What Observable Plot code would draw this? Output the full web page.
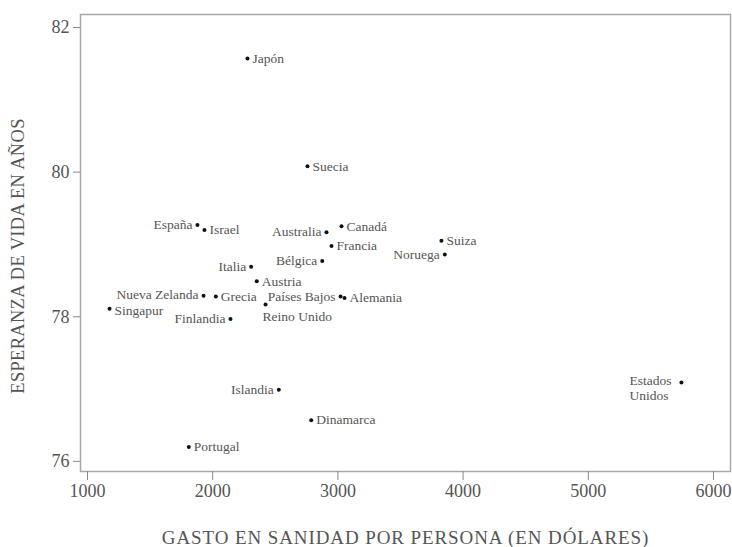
<!DOCTYPE html>
<html><head><meta charset="utf-8">
<script src="https://cdn.jsdelivr.net/npm/d3@7"></script>
<script src="https://cdn.jsdelivr.net/npm/@observablehq/plot@0.6"></script>
<style>
body{margin:0;background:#fff}
svg{display:block}
#chart svg, #chart svg text{font-family:"Liberation Serif","DejaVu Serif",serif !important;}
</style>
</head><body><div id="chart"></div>
<script>
// Data
const countries = ["Japón","Suecia","España","Israel","Australia","Canadá","Francia","Bélgica","Suiza","Noruega","Italia","Austria","Nueva Zelanda","Grecia","Países Bajos","Alemania","Reino Unido","Singapur","Finlandia","Islandia","Dinamarca","Portugal","Estados Unidos"];
const spending = [2278,2757,1878,1934,2909,3029,2949,2875,3827,3854,2307,2352,1927,2025,3021,3053,2422,1176,2142,2528,2787,1809,5744];
const lifeExpectancy = [81.57,80.08,79.27,79.20,79.17,79.25,78.98,78.77,79.05,78.86,78.69,78.49,78.29,78.28,78.28,78.26,78.17,78.11,77.97,76.99,76.57,76.20,77.09];
const xTicks = [1000,2000,3000,4000,5000,6000];
const yTicks = [76,78,80,82];
const xTitle = "GASTO EN SANIDAD POR PERSONA (EN DÓLARES)";
const yTitle = "ESPERANZA DE VIDA EN AÑOS";

// label placement (layout config)
const leftLabeled = new Set(["España","Australia","Bélgica","Noruega","Italia","Nueva Zelanda","Finlandia","Islandia","Países Bajos"]);
const belowLabeled = new Set(["Reino Unido"]);
const blockLabeled = new Set(["Estados Unidos"]);
const nudgeUp = new Set(["Nueva Zelanda"]);
const nudgeDown = new Set(["Singapur"]);

const data = countries.map((c, i) => ({country: c, x: spending[i], y: lifeExpectancy[i]}));
const isPlain = d => !leftLabeled.has(d.country) && !belowLabeled.has(d.country) && !blockLabeled.has(d.country) && !nudgeUp.has(d.country) && !nudgeDown.has(d.country);
const rightData = data.filter(d => isPlain(d) );
const leftData = data.filter(d => leftLabeled.has(d.country) && !nudgeUp.has(d.country));
const upData = data.filter(d => nudgeUp.has(d.country));
const downData = data.filter(d => nudgeDown.has(d.country));
const belowData = data.filter(d => belowLabeled.has(d.country));
const blockData = data.filter(d => blockLabeled.has(d.country));

const font = "Liberation Serif";
const textColor = "#555";
const fmt = d => String(d);
const lab = {fontSize: 13.5, fill: textColor, fontFamily: font};

const chart = Plot.plot({
  width: 732,
  height: 547,
  marginLeft: 80,
  marginRight: 2,
  marginTop: 14,
  marginBottom: 76,
  style: {fontFamily: font, background: "#fff", color: textColor},
  x: {domain: [944, 6136]},
  y: {domain: [75.86, 82.18]},
  marks: [
    Plot.frame({stroke: "#a8a8a8", strokeWidth: 1.5}),
    Plot.axisX({ticks: xTicks, tickFormat: fmt, tickSize: 9, tickPadding: 4, label: null, fontSize: 18, stroke: "#888", fill: textColor, fontFamily: font}),
    Plot.axisY({ticks: yTicks, tickFormat: fmt, tickSize: 7, tickPadding: 4, label: null, fontSize: 18, stroke: "#888", fill: textColor, fontFamily: font}),
    Plot.dot(data, {x: "x", y: "y", r: 2, fill: "#111", stroke: null}),
    Plot.text(rightData, {x: "x", y: "y", text: "country", textAnchor: "start", dx: 5, ...lab}),
    Plot.text(downData, {x: "x", y: "y", text: "country", textAnchor: "start", dx: 5, dy: 1.5, ...lab}),
    Plot.text(leftData, {x: "x", y: "y", text: "country", textAnchor: "end", dx: -5, ...lab}),
    Plot.text(upData, {x: "x", y: "y", text: "country", textAnchor: "end", dx: -5, dy: -1.5, ...lab}),
    Plot.text(belowData, {x: "x", y: "y", text: "country", textAnchor: "start", dx: -3, dy: 12, ...lab}),
    Plot.text(blockData, {x: "x", y: "y", text: d => d.country.replace(" ", "\n"), textAnchor: "start", lineAnchor: "top", dx: -52, dy: -8, lineHeight: 1.1, ...lab}),
    Plot.text([xTitle], {frameAnchor: "bottom", textAnchor: "middle", lineAnchor: "middle", dy: 66, fontSize: 19, fill: textColor, fontFamily: font}),
    Plot.text([yTitle], {frameAnchor: "left", textAnchor: "middle", lineAnchor: "middle", rotate: -90, dx: -62, dy: 13, fontSize: 18.5, fill: textColor, fontFamily: font})
  ]
});
chart.querySelectorAll("text").forEach(t => {
  if (t.textContent === xTitle) t.style.letterSpacing = "0.9px";
  if (t.textContent === yTitle) t.style.letterSpacing = "0.3px";
});
document.getElementById("chart").appendChild(chart);
</script>
</body></html>
